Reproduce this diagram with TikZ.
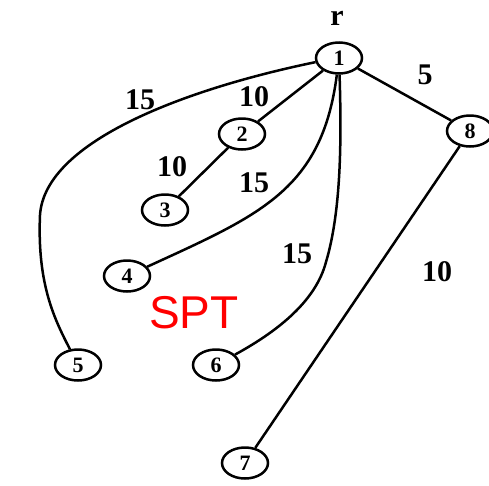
\documentclass[tikz,border=0pt]{standalone}
\usepackage{fontspec}
\setmainfont{Liberation Serif}
\newfontfamily\labelsans{Liberation Sans}
\usetikzlibrary{shapes.geometric}
\begin{document}
\begin{tikzpicture}[x=1pt,y=-1pt,
  vertex/.style={ellipse,draw,line width=2.5pt,minimum width=46pt,minimum height=31pt,
    inner sep=0pt,font=\fontsize{22}{22}\selectfont\bfseries},
  weight/.style={font=\fontsize{30}{30}\selectfont\bfseries},
  edge/.style={line width=2.5pt}]
\useasboundingbox (0,0) rectangle (489,485);
% vertices
\node[vertex] (n1) at (339,58) {1};
\node[vertex] (n2) at (242,134) {2};
\node[vertex] (n3) at (165,210) {3};
\node[vertex] (n4) at (127,276) {4};
\node[vertex] (n5) at (78,365) {5};
\node[vertex] (n6) at (216,365) {6};
\node[vertex] (n7) at (245,463) {7};
\node[vertex] (n8) at (470,131) {8};
\node[weight] (root) at (337,18) {r};
% tree edges
\draw[edge] (n1) -- (n2);
\draw[edge] (n2) -- (n3);
\draw[edge] (n1) -- (n8);
\draw[edge] (n8) -- (n7);
\draw[edge] (n1) .. controls (322,190) and (260,215) .. (n4);
\draw[edge] (n1.190) .. controls (190,88) and (45,140) .. (40,215)
                     .. controls (37,285) and (55,320) .. (n5);
\draw[edge] (n1) .. controls (342,150) and (340,215) .. (326,262)
                 .. controls (316,300) and (280,330) .. (n6);
% weights
\node[weight] (w15a) at (140,100) {15};
\node[weight] (w10a) at (254,97) {10};
\node[weight] (w5)   at (425,75) {5};
\node[weight] (w10b) at (172,167) {10};
\node[weight] (w15b) at (254,183) {15};
\node[weight] (w15c) at (297,254) {15};
\node[weight] (w10c) at (437,272) {10};
% caption
\node[font=\labelsans\fontsize{46}{46}\selectfont,text=red] (spt) at (194,313) {SPT};
\end{tikzpicture}
\end{document}
